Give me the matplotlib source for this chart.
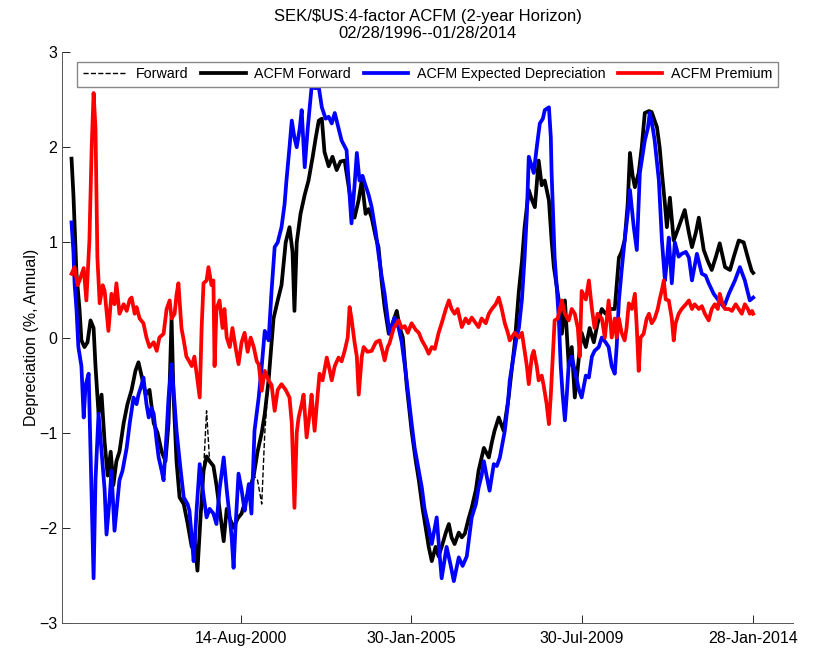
import matplotlib
matplotlib.use("Agg")
import matplotlib.pyplot as plt
import numpy as np

plt.rcParams['font.family'] = ['Liberation Sans', 'DejaVu Sans']

# dates as decimal years
acfm_fwd_t = [1996.16, 1996.21, 1996.29, 1996.37, 1996.42, 1996.50, 1996.58, 1996.66, 1996.74, 1996.79,
              1996.87, 1996.95, 1997.03, 1997.11, 1997.19, 1997.26, 1997.34, 1997.42, 1997.53, 1997.63,
              1997.74, 1997.84, 1997.92, 1998.00, 1998.11, 1998.21, 1998.32, 1998.42, 1998.53, 1998.63,
              1998.71, 1998.79, 1998.84, 1998.92, 1999.00, 1999.11, 1999.21, 1999.32, 1999.39, 1999.47,
              1999.55, 1999.63, 1999.71, 1999.79, 1999.89, 1999.97, 2000.05, 2000.16, 2000.24, 2000.32,
              2000.42, 2000.53, 2000.63, 2000.74, 2000.84, 2000.95, 2001.05, 2001.16, 2001.24, 2001.34,
              2001.39, 2001.47, 2001.58, 2001.68, 2001.79, 2001.89, 2001.97, 2002.02, 2002.08, 2002.18,
              2002.29, 2002.39, 2002.50, 2002.58, 2002.66, 2002.74, 2002.81, 2002.92, 2003.02, 2003.13,
              2003.23, 2003.34, 2003.44, 2003.52, 2003.60, 2003.71, 2003.79, 2003.89, 2003.97, 2004.05,
              2004.16, 2004.23, 2004.31, 2004.39, 2004.50, 2004.60, 2004.71, 2004.79, 2004.87, 2004.97,
              2005.10, 2005.21, 2005.29, 2005.39, 2005.47, 2005.55, 2005.63, 2005.73, 2005.81, 2005.89,
              2006.00, 2006.08, 2006.15, 2006.23, 2006.34, 2006.42, 2006.50, 2006.60, 2006.68, 2006.79,
              2006.86, 2007.00, 2007.13, 2007.21, 2007.28, 2007.39, 2007.52, 2007.65, 2007.73, 2007.81,
              2007.92, 2008.00, 2008.07, 2008.18, 2008.26, 2008.34, 2008.44, 2008.52, 2008.60, 2008.71,
              2008.78, 2008.84, 2008.97, 2009.05, 2009.13, 2009.23, 2009.31, 2009.39, 2009.50, 2009.57,
              2009.68, 2009.78, 2009.89, 2009.99, 2010.10, 2010.20, 2010.31, 2010.44, 2010.55, 2010.62,
              2010.70, 2010.78, 2010.84, 2010.91, 2010.97, 2011.07, 2011.15, 2011.23, 2011.34, 2011.41,
              2011.55, 2011.62, 2011.68, 2011.76, 2011.81, 2011.89, 2011.99, 2012.12, 2012.28, 2012.39,
              2012.47, 2012.57, 2012.65, 2012.78, 2012.89, 2012.99, 2013.10, 2013.20, 2013.34, 2013.47,
              2013.57, 2013.70, 2013.83, 2013.96, 2014.04, 2014.08]
acfm_fwd = [1.88, 1.5, 0.67, 0.3, -0.03, -0.1, -0.05, 0.18, 0.1, -0.3,
            -0.8, -0.6, -1.1, -1.45, -1.2, -1.55, -1.3, -1.2, -0.9, -0.7,
            -0.55, -0.35, -0.26, -0.4, -0.6, -0.55, -0.9, -1.0, -1.2, -1.3,
            -0.9, 0.2, -0.6, -1.3, -1.68, -1.75, -1.95, -2.2, -2.1, -2.45,
            -1.9, -1.4, -1.25, -1.3, -1.35, -1.55, -1.8, -2.14, -1.8, -1.9,
            -2.0, -1.9, -1.85, -1.7, -1.6, -1.45, -1.2, -1.0, -0.8, -0.45,
            -0.2, 0.2, 0.39, 0.55, 1.0, 1.16, 0.9, 0.28, 1.0, 1.3,
            1.5, 1.65, 1.9, 2.1, 2.28, 2.3, 1.95, 1.8, 1.9, 1.76,
            1.85, 1.86, 1.6, 1.4, 1.26, 1.45, 1.65, 1.3, 1.35, 1.26,
            1.05, 0.95, 0.6, 0.32, 0.04, 0.15, 0.28, 0.1, 0.0, -0.5,
            -0.98, -1.3, -1.5, -1.8, -2.0, -2.2, -2.35, -2.2, -2.3, -2.2,
            -2.05, -1.96, -2.1, -2.17, -2.05, -2.1, -2.06, -1.9, -1.79, -1.6,
            -1.4, -1.16, -1.26, -1.1, -0.98, -0.84, -0.98, -0.63, -0.35, -0.06,
            0.49, 0.8, 1.16, 1.55, 1.45, 1.37, 1.86, 1.6, 1.65, 1.44,
            1.02, 0.74, 0.39, 0.04, 0.39, -0.3, -0.1, -0.63, -0.2, 0.05,
            -0.1, 0.1, -0.05, 0.15, 0.3, 0.25, 0.3, 0.3, 0.84, 0.9,
            1.02, 1.4, 1.94, 1.7, 1.58, 1.73, 2.0, 2.36, 2.38, 2.37,
            2.21, 2.0, 1.73, 1.4, 1.16, 1.47, 1.02, 1.16, 1.34, 1.1,
            0.95, 1.1, 1.26, 0.92, 0.8, 0.71, 0.85, 0.99, 0.74, 0.71,
            0.85, 1.02, 1.0, 0.81, 0.7, 0.68]

# plain forward: same as ACFM forward except at these dates
fwd_diff_t = [1999.71, 2001.05, 2001.16, 2001.24]
fwd_diff_v = [-0.77, -1.5, -1.75, -1.0]

exp_dep_t = [1996.16, 1996.21, 1996.24, 1996.29, 1996.34, 1996.42, 1996.48, 1996.53, 1996.61, 1996.66,
             1996.74, 1996.79, 1996.87, 1996.95, 1997.03, 1997.08, 1997.16, 1997.21, 1997.29, 1997.37,
             1997.42, 1997.50, 1997.61, 1997.69, 1997.79, 1997.87, 1997.92, 1998.00, 1998.05, 1998.13,
             1998.19, 1998.26, 1998.32, 1998.40, 1998.45, 1998.53, 1998.58, 1998.66, 1998.71, 1998.79,
             1998.87, 1998.92, 1999.03, 1999.11, 1999.21, 1999.26, 1999.32, 1999.37, 1999.45, 1999.53,
             1999.61, 1999.71, 1999.79, 1999.89, 1999.97, 2000.05, 2000.16, 2000.24, 2000.32, 2000.37,
             2000.42, 2000.47, 2000.55, 2000.63, 2000.71, 2000.76, 2000.82, 2000.89, 2000.97, 2001.08,
             2001.16, 2001.24, 2001.34, 2001.42, 2001.50, 2001.58, 2001.68, 2001.76, 2001.81, 2001.89,
             2001.95, 2002.02, 2002.08, 2002.16, 2002.21, 2002.29, 2002.37, 2002.47, 2002.58, 2002.66,
             2002.74, 2002.84, 2002.92, 2003.00, 2003.08, 2003.18, 2003.26, 2003.39, 2003.47, 2003.52,
             2003.60, 2003.66, 2003.73, 2003.81, 2003.87, 2003.97, 2004.05, 2004.16, 2004.23, 2004.31,
             2004.39, 2004.47, 2004.52, 2004.65, 2004.76, 2004.84, 2004.94, 2005.02, 2005.10, 2005.18,
             2005.29, 2005.37, 2005.44, 2005.55, 2005.63, 2005.76, 2005.84, 2005.89, 2006.02, 2006.13,
             2006.21, 2006.34, 2006.44, 2006.55, 2006.68, 2006.79, 2006.86, 2006.94, 2007.00, 2007.07,
             2007.15, 2007.26, 2007.34, 2007.42, 2007.55, 2007.63, 2007.68, 2007.78, 2007.86, 2007.92,
             2008.00, 2008.07, 2008.13, 2008.18, 2008.26, 2008.31, 2008.39, 2008.47, 2008.55, 2008.60,
             2008.71, 2008.76, 2008.78, 2008.86, 2008.92, 2008.97, 2009.02, 2009.07, 2009.13, 2009.18,
             2009.23, 2009.31, 2009.39, 2009.50, 2009.57, 2009.68, 2009.76, 2009.84, 2009.91, 2010.02,
             2010.10, 2010.20, 2010.28, 2010.36, 2010.44, 2010.49, 2010.55, 2010.62, 2010.70, 2010.78,
             2010.84, 2010.94, 2011.02, 2011.10, 2011.23, 2011.31, 2011.36, 2011.44, 2011.49, 2011.60,
             2011.68, 2011.76, 2011.81, 2011.86, 2011.94, 2012.02, 2012.12, 2012.20, 2012.31, 2012.39,
             2012.47, 2012.60, 2012.73, 2012.83, 2012.91, 2013.04, 2013.17, 2013.31, 2013.44, 2013.60,
             2013.73, 2013.86, 2013.99, 2014.08]
exp_dep = [1.21, 0.9, 0.57, 0.3, -0.1, -0.3, -0.84, -0.5, -0.38, -1.2,
           -2.53, -1.5, -0.8, -1.2, -1.6, -2.07, -1.7, -1.4, -2.03, -1.7,
           -1.5, -1.4, -1.16, -0.9, -0.63, -0.7, -0.6, -0.5, -0.42, -0.7,
           -0.84, -0.74, -0.8, -1.1, -1.26, -1.4, -1.5, -1.0, -0.63, -0.28,
           -0.7, -0.98, -1.4, -1.68, -1.75, -1.82, -2.1, -2.35, -1.8, -1.33,
           -1.6, -1.89, -1.8, -1.85, -1.96, -1.6, -1.26, -1.6, -1.9, -2.1,
           -2.42, -2.0, -1.43, -1.6, -1.82, -1.7, -1.54, -1.85, -0.98, -0.63,
           -0.3, 0.07, -0.03, 0.5, 0.95, 1.0, 1.16, 1.4, 1.65, 2.0,
           2.28, 2.1, 2.0, 2.2, 2.39, 1.79, 2.2, 2.63, 2.62, 2.63,
           2.42, 2.3, 2.32, 2.25, 2.36, 2.2, 2.07, 1.97, 1.5, 1.2,
           1.6, 1.94, 1.65, 1.7, 1.62, 1.5, 1.37, 1.1, 0.88, 0.65,
           0.46, 0.2, 0.04, 0.21, 0.1, -0.05, -0.35, -0.63, -0.9, -1.16,
           -1.4, -1.58, -1.8, -2.0, -2.17, -1.89, -2.3, -2.53, -2.2, -2.4,
           -2.56, -2.31, -2.4, -2.3, -1.89, -1.75, -1.58, -1.45, -1.3, -1.45,
           -1.61, -1.33, -1.35, -1.26, -0.98, -0.7, -0.45, -0.2, 0.0, 0.1,
           0.4, 0.84, 1.3, 1.9, 1.8, 1.73, 2.0, 2.25, 2.3, 2.39,
           2.42, 2.1, 1.73, 0.84, 0.5, 0.2, -0.3, -0.6, -0.87, -0.6,
           -0.28, -0.2, -0.35, -0.55, -0.63, -0.4, -0.42, -0.2, -0.14, -0.1,
           0.0, -0.05, -0.1, -0.3, -0.38, -0.1, 0.39, 0.7, 1.02, 1.3,
           1.55, 1.16, 0.92, 1.73, 2.07, 2.2, 2.36, 2.2, 2.07, 1.65,
           1.02, 0.6, 0.8, 1.05, 0.57, 1.0, 0.85, 0.88, 0.9, 0.84,
           0.6, 0.88, 0.67, 0.65, 0.57, 0.46, 0.39, 0.32, 0.46, 0.6,
           0.74, 0.6, 0.39, 0.42]

premium_t = [1996.16, 1996.24, 1996.32, 1996.37, 1996.48, 1996.55, 1996.63, 1996.69, 1996.74, 1996.79,
             1996.84, 1996.90, 1996.98, 1997.03, 1997.13, 1997.21, 1997.29, 1997.34, 1997.42, 1997.53,
             1997.61, 1997.69, 1997.74, 1997.82, 1997.87, 1997.95, 1998.05, 1998.13, 1998.21, 1998.32,
             1998.40, 1998.47, 1998.58, 1998.66, 1998.74, 1998.79, 1998.87, 1998.92, 1998.97, 1999.05,
             1999.11, 1999.18, 1999.24, 1999.32, 1999.39, 1999.47, 1999.53, 1999.58, 1999.63, 1999.71,
             1999.76, 1999.84, 1999.89, 1999.92, 1999.97, 2000.05, 2000.13, 2000.18, 2000.24, 2000.32,
             2000.39, 2000.47, 2000.55, 2000.63, 2000.71, 2000.79, 2000.87, 2000.95, 2001.03, 2001.08,
             2001.16, 2001.24, 2001.34, 2001.42, 2001.50, 2001.58, 2001.68, 2001.79, 2001.89, 2001.95,
             2002.02, 2002.08, 2002.13, 2002.21, 2002.26, 2002.34, 2002.42, 2002.47, 2002.55, 2002.63,
             2002.68, 2002.76, 2002.87, 2002.95, 2003.00, 2003.08, 2003.18, 2003.26, 2003.34, 2003.42,
             2003.47, 2003.52, 2003.60, 2003.66, 2003.71, 2003.79, 2003.84, 2003.94, 2004.05, 2004.16,
             2004.26, 2004.34, 2004.39, 2004.47, 2004.52, 2004.63, 2004.76, 2004.84, 2004.92, 2005.00,
             2005.10, 2005.21, 2005.29, 2005.37, 2005.47, 2005.55, 2005.63, 2005.71, 2005.81, 2005.89,
             2006.00, 2006.08, 2006.15, 2006.23, 2006.31, 2006.42, 2006.52, 2006.60, 2006.68, 2006.79,
             2006.86, 2006.94, 2007.05, 2007.13, 2007.21, 2007.31, 2007.39, 2007.47, 2007.55, 2007.63,
             2007.68, 2007.73, 2007.81, 2007.92, 2008.00, 2008.07, 2008.13, 2008.18, 2008.26, 2008.31,
             2008.39, 2008.44, 2008.52, 2008.57, 2008.65, 2008.71, 2008.76, 2008.81, 2008.86, 2008.94,
             2009.05, 2009.13, 2009.23, 2009.31, 2009.39, 2009.47, 2009.52, 2009.57, 2009.68, 2009.76,
             2009.84, 2009.91, 2009.99, 2010.10, 2010.18, 2010.28, 2010.36, 2010.44, 2010.49, 2010.55,
             2010.62, 2010.70, 2010.75, 2010.81, 2010.89, 2010.97, 2011.02, 2011.07, 2011.12, 2011.20,
             2011.28, 2011.34, 2011.41, 2011.49, 2011.57, 2011.62, 2011.68, 2011.73, 2011.78, 2011.86,
             2011.94, 2011.99, 2012.04, 2012.12, 2012.20, 2012.31, 2012.39, 2012.47, 2012.54, 2012.65,
             2012.73, 2012.81, 2012.91, 2012.99, 2013.07, 2013.15, 2013.20, 2013.28, 2013.34, 2013.44,
             2013.52, 2013.62, 2013.70, 2013.78, 2013.86, 2013.94, 2013.99, 2014.05, 2014.08]
premium = [0.67, 0.74, 0.55, 0.6, 0.73, 0.39, 1.02, 2.0, 2.57, 2.2,
           0.84, 0.36, 0.55, 0.49, 0.07, 0.46, 0.35, 0.57, 0.25, 0.35,
           0.28, 0.4, 0.42, 0.25, 0.32, 0.2, 0.15, 0.0, -0.1, -0.05,
           -0.14, 0.0, 0.04, 0.3, 0.39, 0.2, 0.25, 0.45, 0.57, 0.1,
           -0.03, -0.2, -0.24, -0.3, -0.2, -0.45, -0.63, 0.1, 0.57, 0.6,
           0.74, 0.55, 0.6, -0.3, 0.3, 0.39, 0.1, 0.3, 0.0, -0.1,
           0.1, -0.1, -0.28, -0.05, 0.05, -0.15, 0.0, -0.1, -0.25, -0.28,
           -0.56, -0.35, -0.45, -0.5, -0.77, -0.55, -0.49, -0.55, -0.63, -0.9,
           -1.79, -1.0, -0.84, -0.7, -0.6, -1.05, -0.8, -0.6, -0.98, -0.6,
           -0.38, -0.45, -0.21, -0.35, -0.45, -0.3, -0.21, -0.25, -0.14, 0.0,
           0.32, 0.2, -0.05, -0.2, -0.6, -0.2, -0.1, -0.15, -0.14, -0.05,
           -0.03, -0.15, -0.24, -0.1, -0.06, 0.1, 0.18, 0.1, 0.12, 0.05,
           0.15, 0.08, 0.05, -0.03, -0.1, -0.17, -0.1, -0.12, 0.05, 0.15,
           0.3, 0.39, 0.3, 0.25, 0.3, 0.11, 0.2, 0.15, 0.21, 0.15,
           0.11, 0.2, 0.15, 0.25, 0.3, 0.35, 0.42, 0.3, 0.15, 0.05,
           -0.03, 0.0, 0.05, 0.0, 0.05, -0.14, -0.3, -0.49, -0.2, -0.14,
           -0.3, -0.45, -0.4, -0.5, -0.7, -0.91, -0.6, -0.2, 0.18, 0.2,
           0.39, 0.25, 0.18, 0.3, 0.25, 0.1, -0.2, 0.49, 0.4, 0.6,
           0.3, 0.1, 0.25, 0.2, 0.0, 0.39, 0.0, 0.2, 0.0, 0.2,
           0.05, -0.03, 0.1, 0.36, 0.3, 0.46, 0.1, -0.35, 0.0, 0.04,
           0.2, 0.25, 0.15, 0.2, 0.3, 0.4, 0.5, 0.6, 0.4, 0.39,
           0.2, -0.03, 0.15, 0.25, 0.3, 0.35, 0.39, 0.3, 0.35, 0.3,
           0.33, 0.25, 0.18, 0.3, 0.35, 0.3, 0.46, 0.35, 0.3, 0.3,
           0.28, 0.35, 0.3, 0.25, 0.35, 0.3, 0.25, 0.28, 0.25]

tick_dates = [2000.618, 2005.079, 2009.575, 2014.074]
tick_labels = ['14-Aug-2000', '30-Jan-2005', '30-Jul-2009', '28-Jan-2014']

fwd = list(acfm_fwd)
for t, v in zip(fwd_diff_t, fwd_diff_v):
    fwd[acfm_fwd_t.index(t)] = v

fig = plt.figure(figsize=(8.16, 6.51), dpi=100)
ax = fig.add_axes([0.076, 0.043, 0.896, 0.877])

ax.plot(acfm_fwd_t, fwd, color='black', linestyle='--', linewidth=1.0, label='Forward')
ax.plot(acfm_fwd_t, acfm_fwd, color='black', linewidth=2.7, label='ACFM Forward')
ax.plot(exp_dep_t, exp_dep, color='blue', linewidth=2.7, label='ACFM Expected Depreciation')
ax.plot(premium_t, premium, color='red', linewidth=2.7, label='ACFM Premium')

ax.set_xlim(1995.91, 2015.13)
ax.set_ylim(-3, 3)
ax.set_xticks(tick_dates)
ax.set_xticklabels(tick_labels)
ax.set_yticks([-3, -2, -1, 0, 1, 2, 3])
ax.tick_params(direction='in', length=5.5, width=0.6, labelsize=11.5, colors='black')
ax.tick_params(axis='x', pad=6)
for s in ['top', 'right']:
    ax.spines[s].set_visible(False)
for s in ['left', 'bottom']:
    ax.spines[s].set_linewidth(0.7)
    ax.spines[s].set_color('#555555')

ax.set_ylabel('Depreciation (%, Annual)', fontsize=11.5, labelpad=0)
ax.set_title('SEK/\\$US:4-factor ACFM (2-year Horizon)\n02/28/1996--01/28/2014', fontsize=12, pad=10)

leg = ax.legend(loc='upper center', bbox_to_anchor=(0.5, 0.996), ncol=4, fontsize=10.3,
                fancybox=False, handlelength=3.1, handletextpad=0.6, columnspacing=0.9,
                borderpad=0.4, framealpha=1)
leg.get_frame().set_edgecolor('#888888')
leg.get_frame().set_linewidth(1.0)

fig.savefig('out.png', dpi=100)
